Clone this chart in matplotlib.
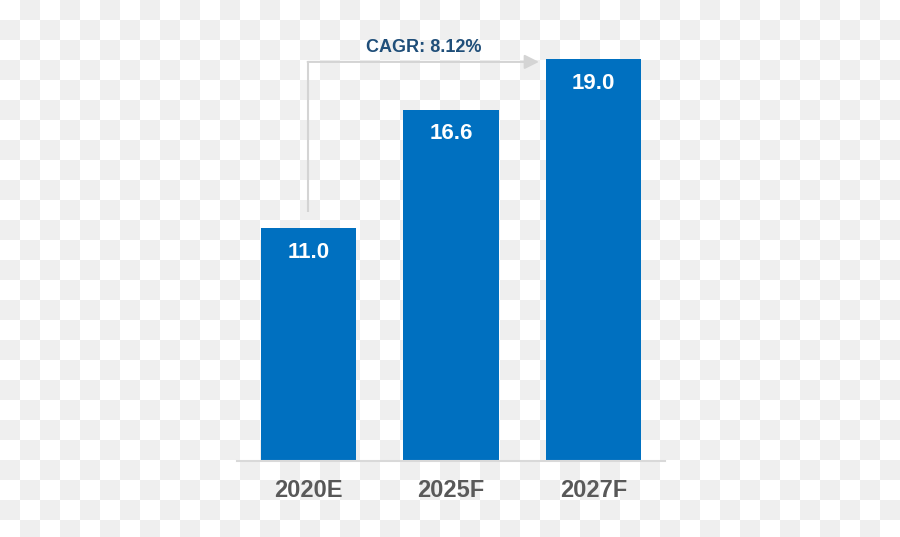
import numpy as np
import matplotlib
matplotlib.use("Agg")
import matplotlib.pyplot as plt

categories = ["2020E", "2025F", "2027F"]
values = [11.0, 16.6, 19.0]
value_labels = ["11.0", "16.6", "19.0"]
cagr_label = "CAGR: 8.12%"

W, H = 900, 537
fig = plt.figure(figsize=(W / 100, H / 100), dpi=100)
fig.patch.set_facecolor("white")

# checkerboard background (transparency pattern of the reference)
yy, xx = np.mgrid[0:H, 0:W]
checker = (((xx // 20) + (yy // 20)) % 2).astype(float)
bg = np.where(checker[..., None] == 0, 1.0, 239 / 255) * np.ones((H, W, 3))
fig.figimage(bg, xo=0, yo=0, origin="upper", zorder=-10)

ax = fig.add_axes([237 / W, (H - 461) / H, 428 / W, 423 / H], zorder=5)
ax.set_facecolor("none")
ax.patch.set_alpha(0)

x = np.arange(len(categories))
width = 0.667
bar_color = "#0070c0"
ax.bar(x, values, width=width, color=bar_color, zorder=3)

ax.set_xlim(-0.5, 2.5)
ax.set_ylim(0, 20)

for xi, v, lab in zip(x, values, value_labels):
    ax.text(xi, v - 1.13, lab, ha="center", va="center", color="white",
            fontsize=16, fontweight="bold", family="Liberation Sans", zorder=4)

# axes styling
for s in ["top", "right", "left"]:
    ax.spines[s].set_visible(False)
ax.spines["bottom"].set_color("#d9d9d9")
ax.spines["bottom"].set_linewidth(1.5)
ax.spines["bottom"].set_zorder(5)
ax.set_yticks([])
ax.set_xticks(x)
ax.set_xticklabels(categories, fontsize=17, fontweight="bold", color="#595959",
                   family="Liberation Sans")
ax.tick_params(axis="x", length=0, pad=13)

# CAGR connector
line_color = "#d4d4d4"
y_h = 18.87
x_end = x[-1] - width / 2 - 0.05
ax.plot([x[0], x[0]], [values[0] + 0.75, y_h], color=line_color, lw=1.5,
        solid_capstyle="butt", zorder=2)
ax.annotate("", xy=(x_end, y_h), xytext=(x[0] - 0.005, y_h),
            arrowprops=dict(arrowstyle="-|>,head_length=0.86,head_width=0.43",
                            color=line_color, lw=1.5, shrinkA=0, shrinkB=0),
            zorder=2)
ax.text((x[0] + x_end) / 2, y_h + 0.66, cagr_label, ha="center", va="center",
        color="#1f4e79", fontsize=13, fontweight="bold", family="Liberation Sans")

fig.savefig("out.png", dpi=100, facecolor=fig.get_facecolor())
